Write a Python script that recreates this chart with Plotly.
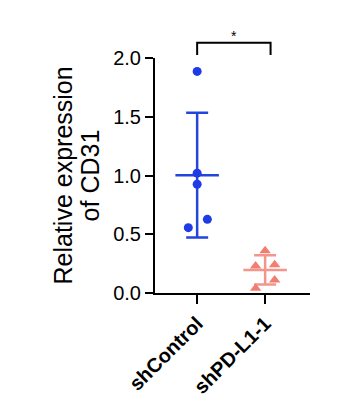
import numpy as np
import plotly.graph_objects as go

# Relative CD31 expression per sample
groups = ["shControl", "shPD-L1-1"]
sh_control = [1.886, 1.02, 0.926, 0.627, 0.556]
sh_pdl1 = [0.36, 0.23, 0.24, 0.11, 0.04]
y_ticks = [0.0, 0.5, 1.0, 1.5, 2.0]
y_tick_text = ["0.0", "0.5", "1.0", "1.5", "2.0"]
significance = "*"

# horizontal scatter of dots within each column (category units)
jitter = {
    0: [0.0, 0.0, 0.0, 0.15, -0.13],
    1: [0.0, -0.14, 0.14, 0.14, -0.14],
}

FONT = "Liberation Sans, Arial, sans-serif"
styles = [
    dict(color="#1f3be6", bar="#2445dc", symbol="circle", size=9),
    dict(color="#f27d70", bar="#f3958a", symbol="triangle-up", size=10),
]

fig = go.Figure()
for i, (vals, st) in enumerate(zip([sh_control, sh_pdl1], styles)):
    v = np.array(vals)
    m = v.mean()
    sd = v.std(ddof=1)
    # mean line
    fig.add_trace(go.Scatter(
        x=[i - 0.32, i + 0.32], y=[m, m], mode="lines",
        line=dict(color=st["bar"], width=2.5), hoverinfo="skip",
        showlegend=False,
    ))
    # SD whiskers
    fig.add_trace(go.Scatter(
        x=[i], y=[m], mode="markers", marker=dict(size=1, opacity=0),
        error_y=dict(type="data", array=[sd], visible=True,
                     color=st["bar"], thickness=2.5, width=11),
        showlegend=False, hoverinfo="skip",
    ))
    # individual samples
    fig.add_trace(go.Scatter(
        x=[i + d for d in jitter[i]], y=vals, mode="markers",
        marker=dict(color=st["color"], symbol=st["symbol"], size=st["size"],
                    line=dict(width=0)),
        showlegend=False, cliponaxis=False,
    ))

# significance bracket
yb_top, yb_bot = 1.065, 1.013
fig.add_shape(type="path", xref="x", yref="paper",
              path=f"M 0,{yb_bot} L 0,{yb_top} L 1.08,{yb_top} L 1.08,{yb_bot}",
              line=dict(color="black", width=2))
fig.add_annotation(x=0.54, y=1.095, xref="x", yref="paper", text=significance,
                   showarrow=False, font=dict(family=FONT, size=14, color="black"),
                   xanchor="center", yanchor="middle")

# two-line y title
fig.add_annotation(x=-0.60, y=0.5, xref="paper", yref="paper",
                   text="Relative expression", textangle=-90, showarrow=False,
                   xanchor="center", yanchor="middle",
                   font=dict(family=FONT, size=25, color="black"))
fig.add_annotation(x=-0.42, y=0.5, xref="paper", yref="paper",
                   text="of CD31", textangle=-90, showarrow=False,
                   xanchor="center", yanchor="middle",
                   font=dict(family=FONT, size=25, color="black"))

fig.update_layout(
    width=343, height=411,
    margin=dict(l=155, r=33, t=58, b=118),
    paper_bgcolor="white", plot_bgcolor="white",
    font=dict(family=FONT, color="black"),
    xaxis=dict(
        range=[-0.62, 1.66], tickvals=[0, 1], ticktext=groups,
        tickangle=-45, ticks="outside", ticklen=9, tickwidth=2,
        tickcolor="black", showline=True, linecolor="black", linewidth=2,
        showgrid=False, zeroline=False,
        tickfont=dict(family=FONT, size=20, color="black", weight="bold"),
    ),
    yaxis=dict(
        range=[0, 2.0], tickvals=y_ticks, ticktext=y_tick_text,
        ticks="outside", ticklen=8, tickwidth=2, tickcolor="black",
        showline=True, linecolor="black", linewidth=2,
        showgrid=False, zeroline=False,
        tickfont=dict(family=FONT, size=20, color="black"),
    ),
)

fig.write_html("out.html")
